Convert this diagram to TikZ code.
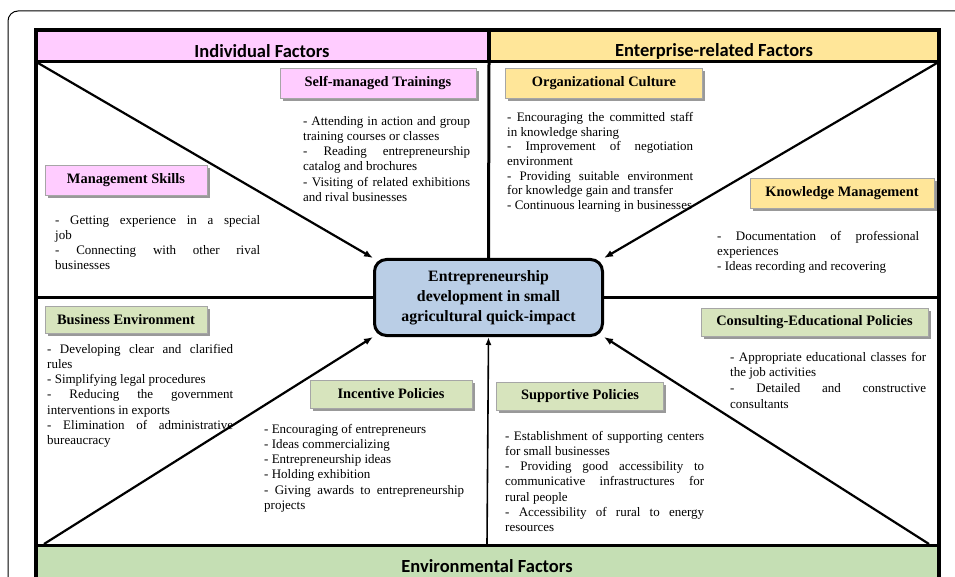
\documentclass[tikz,border=0pt]{standalone}
\usepackage{fontspec}
\setmainfont{Liberation Serif}
\newfontfamily\headfont{Carlito}
\usetikzlibrary{arrows,arrows.meta,shadows,positioning,calc}

\definecolor{indpink}{HTML}{FFCCFF}
\definecolor{entyellow}{HTML}{FFE699}
\definecolor{envgreen}{HTML}{C5DFB4}
\definecolor{lblgreen}{HTML}{D7E4BD}
\definecolor{ctrblue}{HTML}{BACEE6}

\tikzset{
  factorhead/.style={font=\headfont\bfseries\fontsize{18.5}{20}\selectfont, inner sep=0pt},
  factorbox/.style={draw=black!35, line width=0.6pt, inner sep=0pt,
    font=\bfseries\fontsize{14.4}{16}\selectfont,
    drop shadow={shadow xshift=2.5pt, shadow yshift=-2.5pt, fill=black!40, opacity=1}},
  itemtext/.style={font=\fontsize{13}{15.2}\selectfont, align=justify, inner sep=0pt, anchor=north west},
  divider/.style={line width=3pt},
  spoke/.style={line width=2.2pt, -{Latex[length=9pt,width=7pt]}},
}

\begin{document}
\begin{tikzpicture}[x=1pt, y=-1pt]
    \useasboundingbox (0,0) rectangle (955,577);

    % draw the outer frame
    \draw[line width=1pt, rounded corners=10pt] (8,11) rectangle (975,600);

    % draw the header and footer bands
    \fill[indpink] (35,30) rectangle (489,62);
    \fill[entyellow] (489,30) rectangle (939,62);
    \fill[envgreen] (35,545) rectangle (939,600);
    \draw[line width=4pt] (35.5,30.5) rectangle (939,600);
    \draw[divider] (35,62) -- (939,62);
    \draw[line width=4pt] (489,30) -- (489,62);
    \draw[divider] (35,545) -- (939,545);

    \node[factorhead] (indiv) at (262,51) {Individual Factors};
    \node[factorhead] (enter) at (714,51) {Enterprise-related Factors};
    \node[factorhead] (envir) at (487,566) {Environmental Factors};

    % the central box
    \node[draw, line width=3pt, rounded corners=12pt, fill=ctrblue, minimum width=228pt, minimum height=76pt,
      align=center, font=\bfseries\fontsize{15.8}{20}\selectfont] (ctr) at (488.5,297.5)
      {Entrepreneurship\\development in small\\agricultural quick-impact};

    % corner points of the spokes
    \coordinate (tl) at (38,63);
    \coordinate (tr) at (937,63);
    \coordinate (bl) at (44,544);
    \coordinate (br) at (929,544);
    \coordinate (bm) at (487,544);
    \coordinate (tm) at (489,62);
    \coordinate (lm) at (37,297.5);
    \coordinate (rm) at (938,297.5);

    % draw the dividers and spokes
    \draw[divider] (tm) -- (ctr.north);
    \draw[divider] (lm) -- (ctr.west);
    \draw[divider] (ctr.east) -- (rm);
    \draw[spoke] (tl) -- (ctr.north west);
    \draw[spoke] (tr) -- (ctr.north east);
    \draw[spoke] (bl) -- (ctr.south west);
    \draw[spoke] (br) -- (ctr.south east);
    \draw[line width=1.6pt, -{Latex[length=8pt,width=6pt]}] (bm) -- (ctr.south);

    % label the factor groups
    \node[factorbox, fill=indpink, minimum width=196pt, minimum height=30pt] (selftr) at (378,83.5) {Self-managed Trainings};
    \node[factorbox, fill=entyellow, minimum width=197pt, minimum height=30pt] (orgcul) at (604,83.5) {Organizational Culture};
    \node[factorbox, fill=indpink, minimum width=162pt, minimum height=30pt] (mgmt) at (126,180.5) {Management Skills};
    \node[factorbox, fill=entyellow, minimum width=184pt, minimum height=30pt] (knowm) at (842,193.5) {Knowledge Management};
    \node[factorbox, fill=lblgreen, minimum width=162pt, minimum height=27pt] (busenv) at (126,320) {Business Environment};
    \node[factorbox, fill=lblgreen, minimum width=227pt, minimum height=28pt] (conspol) at (814.5,322) {Consulting-Educational Policies};
    \node[factorbox, fill=lblgreen, minimum width=162pt, minimum height=28pt] (incpol) at (391,394) {Incentive Policies};
    \node[factorbox, fill=lblgreen, minimum width=167pt, minimum height=28pt] (suppol) at (580,396) {Supportive Policies};

    % list the items
    \node[itemtext, text width=167pt] (selftxt) at (303,116) {- Attending in action and group\linebreak training courses or classes\par - Reading entrepreneurship\linebreak catalog and brochures\par - Visiting of related exhibitions\linebreak and rival businesses};
    \node[itemtext, text width=186pt, font=\fontsize{13}{14.7}\selectfont] (orgtxt) at (507,112) {- Encouraging the committed staff\linebreak in knowledge sharing\par - Improvement of negotiation\linebreak environment\par - Providing suitable environment\linebreak for knowledge gain and transfer\par - Continuous learning in businesses};
    \node[itemtext, text width=205pt] (mgmttxt) at (55,215) {- Getting experience in a special\linebreak job\par - Connecting with other rival\linebreak businesses};
    \node[itemtext, text width=202pt] (knowtxt) at (717,231) {- Documentation of professional\linebreak experiences\par - Ideas recording and recovering};
    \node[itemtext, text width=186pt] (bustxt) at (47,344) {- Developing clear and clarified\linebreak rules\par - Simplifying legal procedures\par - Reducing the government\linebreak interventions in exports\par - Elimination of administrative\linebreak bureaucracy};
    \node[itemtext, text width=196pt, font=\fontsize{13}{15.6}\selectfont] (constxt) at (730,352) {- Appropriate educational classes for\linebreak the job activities\par - Detailed and constructive\linebreak consultants};
    \node[itemtext, text width=200pt] (inctxt) at (264,424) {- Encouraging of entrepreneurs\par - Ideas commercializing\par - Entrepreneurship ideas\par - Holding exhibition\par - Giving awards to entrepreneurship\linebreak projects};
    \node[itemtext, text width=199pt] (suptxt) at (505,431) {- Establishment of supporting centers\linebreak for small businesses\par - Providing good accessibility to\linebreak communicative infrastructures for\linebreak rural people\par - Accessibility of rural to energy\linebreak resources};
\end{tikzpicture}
\end{document}
